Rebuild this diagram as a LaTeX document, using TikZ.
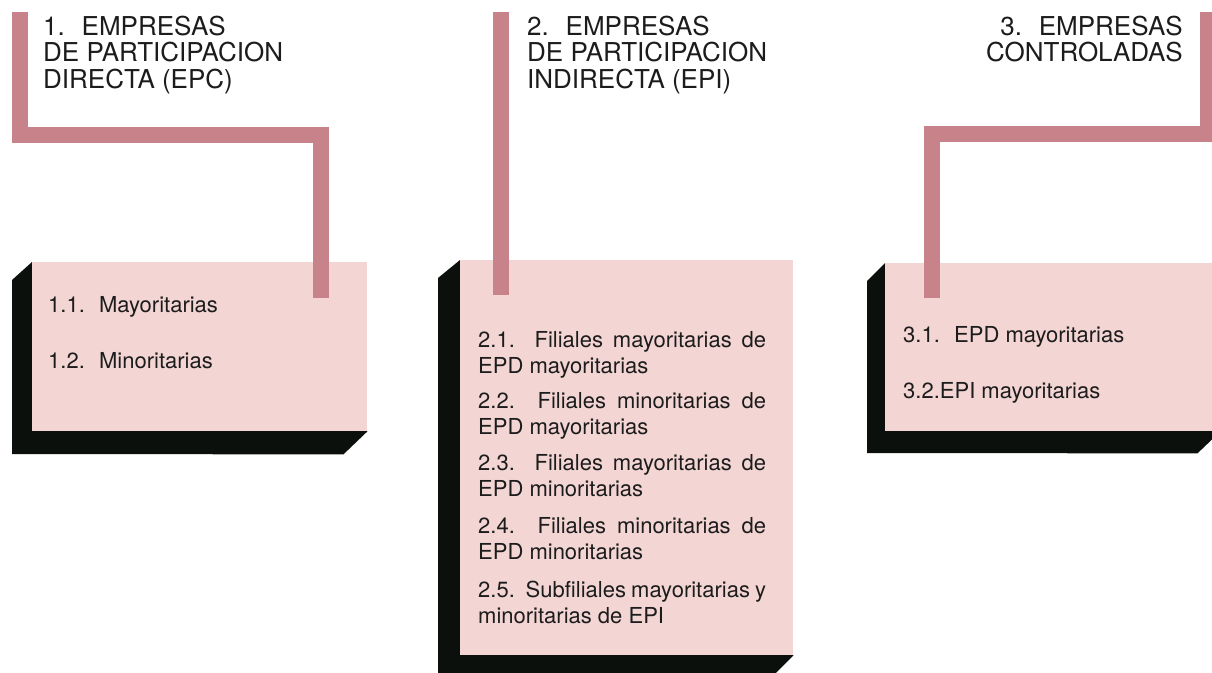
\documentclass[tikz,border=0pt]{standalone}
\usepackage{fontspec}
\setmainfont{TeX Gyre Heros}
\usetikzlibrary{positioning,backgrounds}
\definecolor{rosa}{HTML}{F3D6D4}
\definecolor{varilla}{HTML}{C8828A}
\definecolor{sombra}{HTML}{0B100C}
\definecolor{tinta}{HTML}{1C1C1C}
\hyphenpenalty=10000
\tolerance=9999

\begin{document}
\begin{tikzpicture}[x=1pt,y=-1pt]
        \tikzstyle{every node}=[inner sep=0pt, text=tinta]
        \tikzstyle{caja}=[fill=rosa, anchor=north west]
        \tikzstyle{titulo}=[font=\fontsize{26}{26.5}\selectfont, anchor=base west, align=left]
        \tikzstyle{item}=[font=\fontsize{22}{26.5}\selectfont, anchor=base west]
        \tikzstyle{barra}=[draw=varilla, line width=16pt]

        \useasboundingbox (0,0) rectangle (1212,672);

        \node[caja, minimum width=335pt, minimum height=169pt] (caja1) at (32,262) {};
        \node[caja, minimum width=333pt, minimum height=395pt] (caja2) at (460,260) {};
        \node[caja, minimum width=335pt, minimum height=168pt] (caja3) at (885,263) {};

        \begin{scope}[on background layer]
            \fill[sombra] (caja1.north west) -- ++(-20,18) -- ++(0,174) -- ([shift={(-24,23)}]caja1.south east) -- (caja1.south east) -- cycle;
            \fill[sombra] (caja2.north west) -- ++(-22,18) -- ++(0,399) -- ([shift={(-22,22)}]caja2.south east) -- (caja2.south east) -- cycle;
            \fill[sombra] (caja3.north west) -- ++(-18,18) -- ++(0,172) -- ([shift={(-23,22)}]caja3.south east) -- (caja3.south east) -- cycle;
        \end{scope}

        \coordinate (arriba1) at (20,12);
        \coordinate (codo1)   at (321,135);
        \coordinate (abajo1)  at (321,298);
        \coordinate (arriba2) at (501,12);
        \coordinate (abajo2)  at (501,295);
        \coordinate (arriba3) at (1208,12);
        \coordinate (codo3)   at (932,134);
        \coordinate (abajo3)  at (932,298);

        \draw[barra] (arriba1) |- (codo1) -- (abajo1);
        \draw[barra] (arriba2) -- (abajo2);
        \draw[barra] (arriba3) |- (codo3) -- (abajo3);

        \node[titulo] (tit1) at (43,88) {1.~ EMPRESAS\\DE PARTICIPACION\\DIRECTA (EPC)};
        \node[titulo] (tit2) at (527,88) {2.~ EMPRESAS\\DE PARTICIPACION\\INDIRECTA (EPI)};
        \node[titulo, anchor=base east, align=right] (tit3) at (1183,61.5) {3.~ EMPRESAS\\CONTROLADAS};

        \node[item] (i11) at (48,312) {1.1.~ Mayoritarias};
        \node[item] (i12) at (48,368) {1.2.~ Minoritarias};

        \node[item, text width=288pt, align=justify] (i21) at (478,347) {2.1. Filiales mayoritarias de EPD mayoritarias};
        \node[item, text width=288pt, align=justify] (i22) at (478,408) {2.2. Filiales minoritarias de EPD mayoritarias};
        \node[item, text width=288pt, align=justify] (i23) at (478,470) {2.3. Filiales mayoritarias de EPD minoritarias};
        \node[item, text width=288pt, align=justify] (i24) at (478,533) {2.4. Filiales minoritarias de EPD minoritarias};
        \node[item, text width=288pt, align=justify] (i25) at (478,597) {2.5.\hspace{3pt} Subfiliales mayoritarias y minoritarias de EPI};

        \node[item] (i31) at (903,342) {3.1.~ EPD mayoritarias};
        \node[item] (i32) at (903,398) {3.2.EPI mayoritarias};

\end{tikzpicture}
\end{document}
